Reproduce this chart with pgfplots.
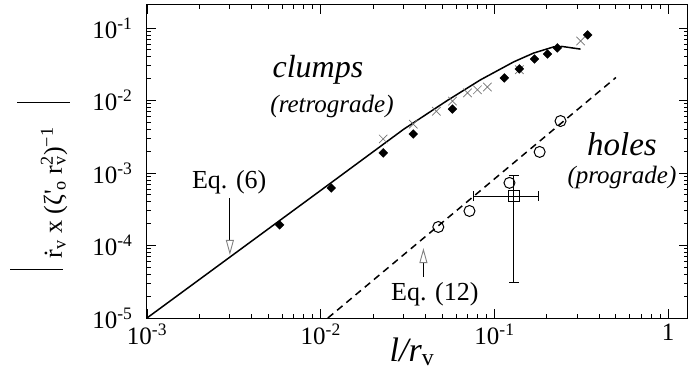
\documentclass[border=0pt]{standalone}
\usepackage{fontspec}
\setmainfont{Liberation Serif}
\usepackage{pgfplots}
\pgfplotsset{compat=1.18}
\usetikzlibrary{arrows.meta}
\begin{document}
\begin{tikzpicture}
\path[use as bounding box] (-147pt,-59pt) rectangle (542pt,318pt);
\begin{axis}[
  at={(0,0)}, anchor=south west,
  xmode=log, ymode=log,
  scale only axis, width=541pt, height=313pt,
  xmin=1e-3, xmax=1.3, ymin=1e-5, ymax=0.207,
  xticklabels={,10\textsuperscript{-3},10\textsuperscript{-2},10\textsuperscript{-1},1},
  yticklabels={,10\textsuperscript{-5},10\textsuperscript{-4},10\textsuperscript{-3},10\textsuperscript{-2},10\textsuperscript{-1}},
  major tick length=9pt, minor tick length=4.5pt,
  every tick/.style={black, line width=0.8pt},
  axis line style={line width=1pt},
  ticklabel style={font=\fontsize{25}{28}\selectfont},
  yticklabel style={xshift=-11pt},
  xticklabel style={yshift=-2pt},
  clip=false,
]
% Eq. (6) curve
\addplot[black, line width=1.5pt] coordinates {
 (0.001,1e-5) (0.01,5.75e-4) (0.03,4.0e-3) (0.0536,1.0e-2) (0.083,0.0192)
 (0.129,0.034) (0.168,0.045) (0.219,0.0547) (0.245,0.0555) (0.313,0.051)};
% Eq. (12) dashed
\addplot[black, line width=1.5pt, dash pattern=on 7pt off 5pt] coordinates {
 (0.011,1e-5) (0.5,0.0207)};
% crosses
\addplot[only marks, mark=x, mark size=6pt, black!55, mark options={line width=0.7pt}] coordinates {
 (0.0229,2.94e-3) (0.0341,4.7e-3) (0.0463,7.1e-3) (0.0573,9.8e-3) (0.0699,0.0127)
 (0.0798,0.014) (0.091,0.0153) (0.139,0.0265) (0.313,0.066)};
% diamonds
\addplot[only marks, mark=square*, mark size=3.1pt, black, mark options={rotate=45, fill=black}] coordinates {
 (5.8e-3,1.92e-4) (0.0115,6.2e-4) (0.0229,1.89e-3) (0.0341,3.45e-3) (0.0573,7.6e-3)
 (0.114,0.0204) (0.139,0.0272) (0.170,0.0373) (0.202,0.0437) (0.230,0.053) (0.344,0.080)};
% circles
\addplot[only marks, mark=o, mark size=5.5pt, black, mark options={line width=1pt}] coordinates {
 (0.0475,1.8e-4) (0.0718,2.99e-4) (0.122,7.3e-4) (0.182,1.95e-3) (0.240,5.2e-3)};
% square with error bars
\addplot[only marks, mark=square, mark size=5.5pt, black, mark options={fill=white, line width=1pt},
  error bars/.cd, x dir=both, x explicit, y dir=both, y explicit,
  error bar style={line width=1pt}, error mark options={rotate=90, line width=1pt, mark size=5pt}]
  coordinates {(0.129,4.8e-4) += (0.050,4.3e-4) -= (0.0533,4.49e-4)};
% arrows
\draw[line width=0.9pt, -{Triangle[open, length=15pt, width=8pt, color=black!50]}] (axis cs:0.003,4.5e-4) -- (axis cs:0.003,7.4e-5);
\draw[line width=0.9pt, -{Triangle[open, length=15pt, width=8pt, color=black!50]}] (axis cs:0.039,3.7e-5) -- (axis cs:0.039,9.2e-5);
% texts
\node[font=\fontsize{32}{36}\selectfont\itshape] at (rel axis cs:0.316,0.792) {clumps};
\node[font=\fontsize{25}{30}\selectfont\itshape] at (rel axis cs:0.342,0.677) {(retrograde)};
\node[font=\fontsize{33}{38}\selectfont\itshape] at (rel axis cs:0.878,0.556) {holes};
\node[font=\fontsize{25}{30}\selectfont\itshape] at (rel axis cs:0.878,0.450) {(prograde)};
\node[font=\fontsize{26}{30}\selectfont] at (rel axis cs:0.152,0.435) {Eq. (6)};
\node[font=\fontsize{26}{30}\selectfont] at (rel axis cs:0.532,0.077) {Eq. (12)};
\end{axis}
\node[anchor=base, font=\fontsize{34}{40}\selectfont] at (265pt,-44pt) {\textit{l/r}\textsubscript{v}};
\node[rotate=90, anchor=base, font=\fontsize{26}{30}\selectfont, inner sep=0pt] at (-85pt,132pt)
 {\rule[-1pt]{1.3pt}{53pt}\hspace{10pt}\.{r}\textsubscript{v} x (ζ\textquotesingle\textsubscript{o} r\rlap{\textsuperscript{2}}\textsubscript{v})\textsuperscript{−1}\hspace{24pt}\rule[-8pt]{1.3pt}{53pt}};
\end{tikzpicture}
\end{document}
